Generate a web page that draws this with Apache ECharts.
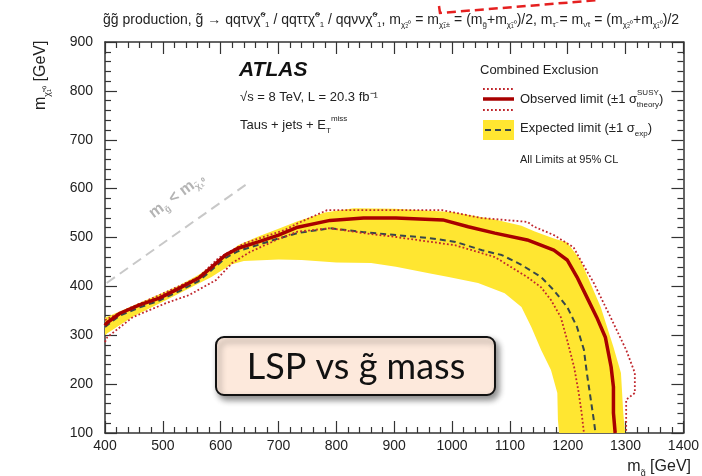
<!DOCTYPE html>
<html>
<head>
<meta charset="utf-8">
<script src="https://cdn.jsdelivr.net/npm/echarts@6/dist/echarts.min.js"></script>
<style>
html,body{margin:0;padding:0;background:#fff;}
#main{width:702px;height:476px;}
</style>
</head>
<body>
<div id="main"></div>
<script>
// gluino mass (x) vs LSP mass (y), GeV
var xTicks = [400, 500, 600, 700, 800, 900, 1000, 1100, 1200, 1300, 1400];
var yTicks = [100, 200, 300, 400, 500, 600, 700, 800, 900];

// observed limit
var obsLimit = [[400,320],[403,325],[426,345],[460,362],[494,376],[528,396],[562,417],[584,439],[608,464],[630,478],[665,491],[700,505],[733,521],[789,535],[847,540],[903,540],[984,536],[1028,522],[1074,509],[1130,495],[1176,474],[1199,454],[1216,419],[1233,378],[1250,337],[1265,296],[1275,235],[1279,194],[1279,141],[1282,100]];
// observed +1 sigma theory
var obsUp = [[400,331],[443,356],[494,382],[562,419],[596,458],[641,488],[710,515],[733,529],[784,556],[880,556],[983,556],[1050,540],[1130,532],[1142,522],[1176,505],[1210,480],[1222,454],[1245,407],[1274,337],[1301,270],[1316,223],[1316,182],[1301,168],[1301,141],[1301,100]];
// observed -1 sigma theory
var obsDown = [[400,286],[404,296],[448,337],[506,366],[545,382],[592,413],[620,448],[650,470],[700,497],[733,512],[789,519],[847,509],[903,501],[1006,484],[1074,460],[1130,419],[1154,398],[1171,372],[1188,337],[1199,290],[1211,235],[1219,182],[1224,141],[1228,100]];
// expected limit
var expLimit = [[400,317],[425,340],[460,357],[494,371],[528,390],[562,411],[584,433],[608,458],[630,472],[665,485],[700,498],[733,509],[789,519],[847,511],[903,505],[960,499],[1006,491],[1052,474],[1086,464],[1120,444],[1154,419],[1176,392],[1199,358],[1216,317],[1228,270],[1233,223],[1240,167],[1245,127],[1248,100]];
// expected +-1 sigma band: outer edge then inner edge (back to start)
var bandOuter = [[400,336],[443,358],[494,384],[528,402],[562,424],[596,452],[630,484],[665,502],[700,518],[733,533],[780,551],[830,560],[900,559],[1000,552],[1074,537],[1120,524],[1142,513],[1176,498],[1199,490],[1222,454],[1257,358],[1279,276],[1292,223],[1296,141],[1299,100]];
var bandInner = [[1185,100],[1183,127],[1182,182],[1171,229],[1154,270],[1137,317],[1120,358],[1091,386],[1045,407],[994,419],[960,427],[903,440],[860,448],[800,449],[740,454],[700,455],[640,452],[618,445],[584,419],[506,372],[448,338],[404,304],[400,300]];
// kinematic boundary line
var diagLine = [[403,407],[647,611]];

var myChart = echarts.init(document.getElementById('main'));
var font = 'Liberation Sans, Arial, sans-serif';
function tok(size, lh, va, col) {
    return {fontSize: size, lineHeight: lh, verticalAlign: va, fontFamily: font, fill: col || '#222'};
}

function axisX(pos, show) {
    return {
        type: 'value', position: pos, min: 400, max: 1400, interval: 100,
        axisLine: {show: true, onZero: false, lineStyle: {color: '#333', width: 1.5}},
        axisTick: {show: true, inside: true, length: 12, lineStyle: {color: '#333', width: 1.2}},
        minorTick: {show: true, splitNumber: 5, length: 6, lineStyle: {color: '#333', width: 1.2}},
        axisLabel: {show: show, margin: 6, fontSize: 14, color: '#222', fontFamily: font,
            formatter: function (v) { return String(v); }},
        splitLine: {show: false}
    };
}
function axisY(pos, show) {
    return {
        type: 'value', position: pos, min: 100, max: 900, interval: 100,
        axisLine: {show: true, onZero: false, lineStyle: {color: '#333', width: 1.5}},
        axisTick: {show: true, inside: true, length: 12, lineStyle: {color: '#333', width: 1.2}},
        minorTick: {show: true, splitNumber: 5, length: 6, lineStyle: {color: '#333', width: 1.2}},
        axisLabel: {show: show, margin: 12, fontSize: 14, color: '#222', fontFamily: font,
            formatter: function (v) { return String(v); }},
        splitLine: {show: false}
    };
}

var option = {
    animation: false,
    backgroundColor: '#fff',
    grid: {left: 105, right: 11, top: 42, bottom: 43},
    xAxis: [axisX('bottom', true), axisX('top', false)],
    yAxis: [axisY('left', true), axisY('right', false)],
    series: [
        {
            type: 'custom', z: 1, clip: true,
            data: [[400, 100]],
            renderItem: function (params, api) {
                var pts = bandOuter.concat(bandInner).map(function (p) { return api.coord(p); });
                return {type: 'polygon', shape: {points: pts}, style: {fill: '#ffe631'}};
            }
        },
        {type: 'line', data: diagLine, showSymbol: false, z: 2,
            lineStyle: {color: '#c8c8c8', width: 2, type: [10, 6]}},
        {type: 'line', data: expLimit, showSymbol: false, z: 3,
            lineStyle: {color: '#37474a', width: 2, type: [6, 4]}},
        {type: 'line', data: obsUp, showSymbol: false, z: 4,
            lineStyle: {color: '#c0272d', width: 1.8, type: [1.8, 2.2]}},
        {type: 'line', data: obsDown, showSymbol: false, z: 4,
            lineStyle: {color: '#c0272d', width: 1.8, type: [1.8, 2.2]}},
        {type: 'line', data: obsLimit, showSymbol: false, z: 5,
            lineStyle: {color: '#a80000', width: 3.5}}
    ],
    graphic: [
        // title
        {type: 'text', x: 103, y: 11, z: 10, style: {
            text: '{n|g̃g̃ production, g̃ → qqτνχ̃}{p|0}{b|1}{n| / qqττχ̃}{p|0}{b|1}{n| / qqννχ̃}{p|0}{b|1}{n|, m}{b|χ̃₂⁰}{n| = m}{b|χ̃₁±}{n| = (m}{b|g̃}{n|+m}{b|χ̃₁⁰}{n|)/2, m}{b|τ̃}{n| = m}{b|ν̃τ}{n| = (m}{b|χ̃₂⁰}{n|+m}{b|χ̃₁⁰}{n|)/2}',
            rich: {n: tok(14, 18, 'middle'), b: tok(8, 8, 'bottom'), p: tok(8, 8, 'top')}
        }},
        // red pointer
        {type: 'polyline', z: 10, shape: {points: [[439, 6], [440, 13], [600, 0]]},
            style: {stroke: '#e52020', lineWidth: 2.5, lineDash: [9, 5], fill: null}},
        // ATLAS labels
        {type: 'text', x: 239, y: 70, z: 10, style: {text: 'ATLAS', font: 'italic bold 21px ' + font, fill: '#111', verticalAlign: 'middle'}},
        {type: 'text', x: 240, y: 97, z: 10, style: {text: '√s = 8 TeV, L = 20.3 fb⁻¹', font: '13px ' + font, fill: '#222', verticalAlign: 'middle'}},
        {type: 'text', x: 240, y: 115, z: 10, style: {
            text: '{n|Taus + jets + E}{b|T}{p|miss}',
            rich: {n: tok(13, 20, 'middle'), b: tok(8, 8, 'bottom'), p: tok(8, 8, 'top')}
        }},
        // legend
        {type: 'text', x: 480, y: 70, z: 10, style: {text: 'Combined Exclusion', font: '13px ' + font, fill: '#222', verticalAlign: 'middle'}},
        {type: 'line', z: 10, shape: {x1: 483, y1: 89, x2: 514, y2: 89}, style: {stroke: '#c0272d', lineWidth: 1.8, lineDash: [1.8, 2.2]}},
        {type: 'line', z: 10, shape: {x1: 483, y1: 99, x2: 514, y2: 99}, style: {stroke: '#a80000', lineWidth: 3.5}},
        {type: 'line', z: 10, shape: {x1: 483, y1: 110, x2: 514, y2: 110}, style: {stroke: '#c0272d', lineWidth: 1.8, lineDash: [1.8, 2.2]}},
        {type: 'text', x: 520, y: 89, z: 10, style: {
            text: '{n|Observed limit (±1 σ}{s|SUSY}{t|theory}{n|)}',
            rich: {n: tok(13, 20, 'middle'), s: tok(8, 8, 'top'),
                t: {fontSize: 8, lineHeight: 8, verticalAlign: 'bottom', fontFamily: font, fill: '#222', padding: [0, 0, 0, -22]}}
        }},
        {type: 'rect', z: 10, shape: {x: 483, y: 120, width: 31, height: 20}, style: {fill: '#ffe631'}},
        {type: 'line', z: 11, shape: {x1: 485, y1: 130, x2: 513, y2: 130}, style: {stroke: '#37474a', lineWidth: 2, lineDash: [6, 4]}},
        {type: 'text', x: 520, y: 118, z: 10, style: {
            text: '{n|Expected limit (±1 σ}{b|exp}{n|)}',
            rich: {n: tok(13, 20, 'middle'), b: tok(8, 8, 'bottom')}
        }},
        {type: 'text', x: 520, y: 160, z: 10, style: {text: 'All Limits at 95% CL', font: '11px ' + font, fill: '#222', verticalAlign: 'middle'}},
        // kinematic line label
        {type: 'text', x: 145, y: 207, z: 10, rotation: 0.64, style: {
            text: '{n|m}{b|g̃}{n| < m}{b|χ̃₁⁰}',
            rich: {n: {fontSize: 16, lineHeight: 20, verticalAlign: 'middle', fontFamily: font, fill: '#b4b4b4', fontWeight: 'bold'},
                b: {fontSize: 9, lineHeight: 9, verticalAlign: 'bottom', fontFamily: font, fill: '#b4b4b4', fontWeight: 'bold'}}
        }},
        // axis names
        {type: 'text', x: 30, y: 110, z: 10, rotation: Math.PI / 2, style: {
            text: '{n|m}{b|χ̃₁⁰}{n| [GeV]}',
            rich: {n: tok(16, 22, 'middle'), b: tok(9, 9, 'bottom')}
        }},
        {type: 'text', x: 691, y: 456, z: 10, style: {
            align: 'right',
            text: '{n|m}{b|g̃}{n| [GeV]}',
            rich: {n: tok(16, 22, 'middle'), b: tok(9, 9, 'bottom')}
        }},
        // annotation box
        {type: 'rect', z: 20, shape: {x: 216, y: 337, width: 279, height: 58, r: 8},
            style: {fill: '#fde9dc', stroke: '#111', lineWidth: 2, shadowBlur: 6, shadowOffsetX: 3, shadowOffsetY: 4, shadowColor: 'rgba(0,0,0,0.45)'}},
        {type: 'text', x: 356, y: 367, z: 21, style: {text: 'LSP vs g̃ mass', font: '36px Lato, Open Sans, sans-serif', fill: '#111', align: 'center', verticalAlign: 'middle'}}
    ]
};
myChart.setOption(option);
window.addEventListener('resize', function () {
    myChart.resize();
});
</script>
</body>
</html>
